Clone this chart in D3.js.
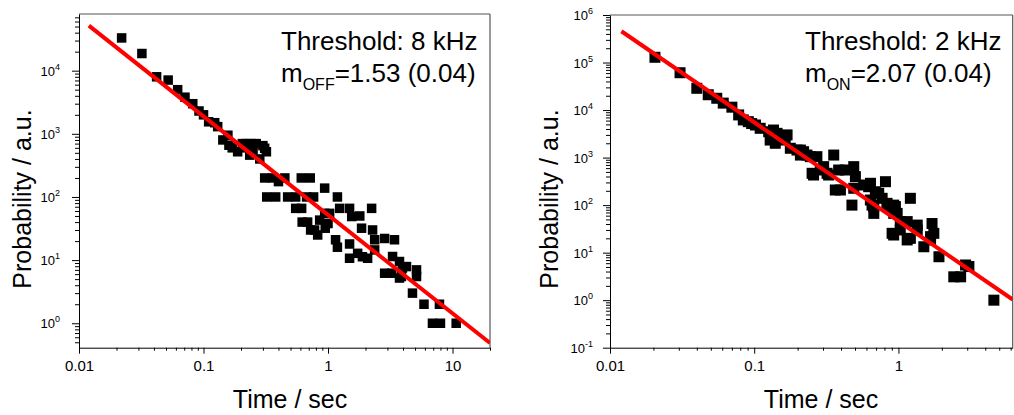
<!DOCTYPE html>
<html><head><meta charset="utf-8">
<script src="https://cdn.jsdelivr.net/npm/d3@7"></script>
<style>
body{margin:0;background:#fff}
svg{display:block}
text{font-family:"Liberation Sans",Arial,sans-serif;fill:#000}
</style>
</head><body>
<svg id="c" width="1014" height="415"></svg>
<script>
// ---------- data: OFF times (left panel) ----------
const offTime = [0.022,0.032,0.042,0.052,0.062,0.071,0.082,0.092,0.100,0.110,0.123,0.130,0.143,0.157,0.160,0.170,0.188,0.205,0.222,0.240,0.265,0.300,0.320,0.215,0.250,0.283,0.235,0.310,
  0.31,0.36,0.45,0.61,0.72,0.40,
  0.322,0.38,0.474,0.55,0.673,0.766,0.94,1.19,
  0.55,0.614,1.24,1.49,2.24,
  0.686,0.62,0.78,0.826,0.94,1.0,0.857,1.03,1.55,1.80,1.86,2.28,1.49,1.15,1.19,0.725,0.95,
  1.49,1.73,2.08,1.89,2.37,2.37,2.85,3.42,3.30,3.75,2.85,3.24,3.89,4.27,3.96,3.75,5.14,5.14,
  4.77,5.9,7.85,6.9,8.0,10.7];
const offProb = [33000,18700,8000,7100,5000,3800,3000,2300,2000,1550,1500,1300,800,950,660,600,520,700,700,700,700,650,520,600,560,400,460,590,
  200,200,200,200,200,175,
  100,100,100,100,100,100,138,100,
  66,66,66,66,66,
  40,40,30,25,55,38,43,55,49,50,32,30,18,21,16,30,32,
  10.7,12.8,10.7,11.3,21,14.5,22,21,11.4,9.5,6.2,6.2,5.5,7.9,7.5,5.2,7.0,5.5,
  3,2,2,1,1,1];

// ---------- data: ON times (right panel) ----------
const onTime = [0.0205,0.0306,0.040,0.048,0.055,0.061,0.070,0.078,0.084,0.091,0.096,0.102,0.110,0.126,0.144,0.136,0.129,0.140,0.164,0.169,0.178,0.198,0.209,0.209,0.220,0.245,0.232,0.272,0.356,
  0.252,0.258,0.303,0.328,0.320,0.287,0.385,0.428,0.490,0.503,0.365,0.396,0.490,0.574,0.622,0.640,0.813,0.692,0.730,0.771,0.639,
  0.476,0.656,0.674,0.834,0.836,0.928,0.953,1.21,0.675,0.928,0.98,1.03,1.15,1.03,1.35,1.35,1.71,1.76,0.904,0.927,1.15,1.21,1.67,1.67,1.50,1.91,
  2.42,2.70,2.92,3.08,4.59];
const onProb = [129000,61000,28700,21000,17700,14000,11500,7900,6200,5700,5200,4850,4130,3500,3240,3800,2340,2000,2340,3000,1570,1440,1440,1130,1330,1045,1130,1045,1130,
  467,430,645,430,467,548,548,548,645,397,208,208,226,265,244,288,311,191,177,139,128,
  100,100,93,109,93,100,93,139,67,67,67,45,45,30,38,30,41,25.5,25.5,23.5,18.5,20,21.7,18.5,13.3,8.2,
  3.1,3.1,5.5,5.1,1];

// ---------- fits (power law p = A * t^-m), as drawn ----------
const offFit = [52, 1.56];   // [A, m]
const onFit  = [46, 2.08];

// ---------- axes ----------
const offXDomain = [0.01, 20];
const offYDomain = [0.41, 79000];
const onXDomain  = [0.01, 6.2];
const onYDomain  = [0.1, 1e6];
const offXTicks = [0.01, 0.1, 1, 10];
const offXTickLabels = ["0.01", "0.1", "1", "10"];
const onXTicks = [0.01, 0.1, 1];
const onXTickLabels = ["0.01", "0.1", "1"];
const offYExps = [0, 1, 2, 3, 4];
const onYExps = [-1, 0, 1, 2, 3, 4, 5, 6];

const xTitle = "Time / sec";
const yTitle = "Probability / a.u.";
const offNote = ["Threshold: 8 kHz", "m", "OFF", "=1.53 (0.04)"];
const onNote  = ["Threshold: 2 kHz", "m", "ON", "=2.07 (0.04)"];

const svg = d3.select("#c");

function minorTicks(dom) {
  const out = [];
  const lo = Math.floor(Math.log10(dom[0])), hi = Math.ceil(Math.log10(dom[1]));
  for (let e = lo; e <= hi; e++) for (let k = 2; k <= 9; k++) {
    const v = k * Math.pow(10, e);
    if (v >= dom[0] * 0.9999 && v <= dom[1] * 1.0001) out.push(v);
  }
  return out;
}

function panel(o) {
  const x = d3.scaleLog().domain(o.xDom).range([o.x0, o.x1]);
  const y = d3.scaleLog().domain(o.yDom).range([o.y1, o.y0]);
  const g = svg.append("g");
  const cid = "clip" + o.id;
  svg.append("clipPath").attr("id", cid).append("rect")
    .attr("x", o.x0).attr("y", o.y0).attr("width", o.x1 - o.x0).attr("height", o.y1 - o.y0);

  // frame (top / right)
  g.append("line").attr("x1", o.x0).attr("x2", o.x1).attr("y1", o.y0).attr("y2", o.y0)
    .attr("stroke", "#555").attr("stroke-width", 1.2);
  g.append("line").attr("x1", o.x1).attr("x2", o.x1).attr("y1", o.y0).attr("y2", o.y1)
    .attr("stroke", "#555").attr("stroke-width", 1.2);

  // minor ticks
  g.append("g").attr("transform", `translate(${o.x0},0)`)
    .call(d3.axisLeft(y).tickValues(minorTicks(o.yDom)).tickSize(4).tickSizeOuter(0).tickFormat(""))
    .call(s => s.select(".domain").remove());
  g.append("g").attr("transform", `translate(0,${o.y1})`)
    .call(d3.axisBottom(x).tickValues(minorTicks(o.xDom)).tickSize(3).tickSizeOuter(0).tickFormat(""))
    .call(s => s.select(".domain").remove());

  // major y
  const yMaj = o.yExps.map(e => Math.pow(10, e));
  const ya = g.append("g").attr("transform", `translate(${o.x0},0)`)
    .call(d3.axisLeft(y).tickValues(yMaj).tickSize(7).tickSizeOuter(0).tickPadding(o.yPad).tickFormat(""));
  ya.selectAll(".tick text").each(function(d) {
    const t = d3.select(this).attr("font-size", 13).attr("dy", "0.36em");
    t.append("tspan").text("10");
    t.append("tspan").attr("font-size", 9).attr("dy", -6).text(Math.round(Math.log10(d)).toString());
  });
  // major x
  const xa = g.append("g").attr("transform", `translate(0,${o.y1})`)
    .call(d3.axisBottom(x).tickValues(o.xTicks).tickSize(6).tickSizeOuter(0).tickPadding(7)
      .tickFormat((d, i) => o.xLabels[i]));
  xa.selectAll(".tick text").attr("font-size", 15);
  [ya, xa].forEach(a => { a.select(".domain").attr("stroke", "#000"); a.attr("font-family", null); });

  // points
  const pts = o.t.map((v, i) => [v, o.p[i]]);
  const s = o.size;
  g.append("g").attr("clip-path", `url(#${cid})`).selectAll("rect").data(pts).join("rect")
    .attr("x", d => x(d[0]) - s / 2).attr("y", d => y(d[1]) - s / 2)
    .attr("width", s).attr("height", s).attr("fill", "#000");

  // fit line
  const ft = [0.012, o.xDom[1]];
  const line = d3.line().x(d => x(d)).y(d => y(o.fit[0] * Math.pow(d, -o.fit[1])));
  g.append("path").attr("clip-path", `url(#${cid})`).attr("d", line(ft))
    .attr("fill", "none").attr("stroke", "#ff0000").attr("stroke-width", 4);

  // titles
  g.append("text").attr("x", o.xtX).attr("y", 408).attr("text-anchor", "middle")
    .attr("font-size", 25).text(xTitle);
  g.append("text").attr("transform", `translate(${o.ytX},199) rotate(-90)`).attr("text-anchor", "middle")
    .attr("font-size", 25).text(yTitle);

  // annotation
  g.append("text").attr("x", o.nX).attr("y", 50).attr("font-size", 26).text(o.note[0]);
  const t2 = g.append("text").attr("x", o.nX).attr("y", 82).attr("font-size", 26);
  t2.append("tspan").text(o.note[1]);
  t2.append("tspan").attr("font-size", 16).attr("dy", 8).text(o.note[2]);
  t2.append("tspan").attr("dy", -8).text(o.note[3]);
}

panel({id: "off", x0: 79, x1: 490, y0: 14, y1: 347.7, xDom: offXDomain, yDom: offYDomain,
  xTicks: offXTicks, xLabels: offXTickLabels, yExps: offYExps, yPad: 12, size: 9.5,
  t: offTime, p: offProb, fit: offFit, xtX: 290, ytX: 31, nX: 281, note: offNote});
panel({id: "on", x0: 610, x1: 1012.7, y0: 15, y1: 347.7, xDom: onXDomain, yDom: onYDomain,
  xTicks: onXTicks, xLabels: onXTickLabels, yExps: onYExps, yPad: 10, size: 11,
  t: onTime, p: onProb, fit: onFit, xtX: 821, ytX: 558, nX: 805, note: onNote});
</script>
</body></html>
